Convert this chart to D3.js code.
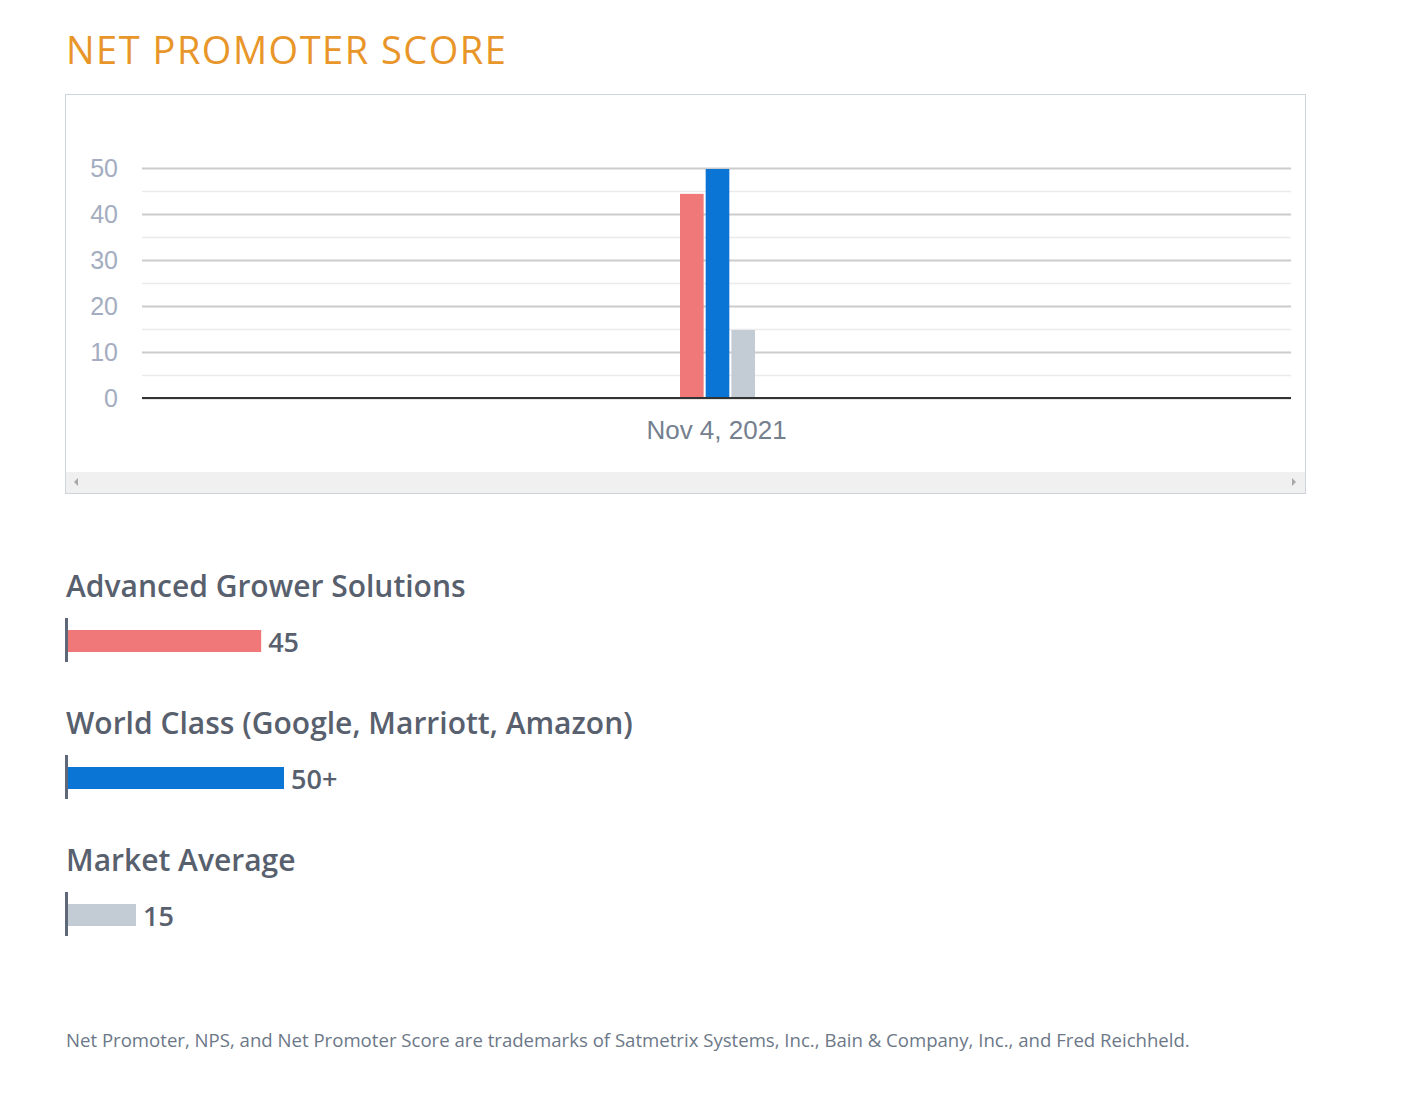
<!DOCTYPE html>
<html>
<head>
<meta charset="utf-8">
<script src="https://cdn.jsdelivr.net/npm/d3@7"></script>
<style>
  body { margin: 0; background: #fff; }
  svg { display: block; }
</style>
</head>
<body>
<div id="chart"></div>
<script>
// data
const dates = ["Nov 4, 2021"];
const seriesNames = ["Advanced Grower Solutions", "World Class (Google, Marriott, Amazon)", "Market Average"];
const seriesValues = [44.6, 50, 15];
const valueLabels = ["45", "50+", "15"];
const seriesColors = ["#f07878", "#0a75d4", "#c3ccd4"];
const yTicks = [0, 10, 20, 30, 40, 50];

const W = 1420, H = 1110;
const svg = d3.select("#chart").append("svg")
  .attr("width", W)
  .attr("height", H);

// title
svg.append("text")
  .attr("x", 66)
  .attr("y", 64)
  .style("font-family", "'Open Sans', sans-serif")
  .style("font-size", "38px")
  .style("letter-spacing", "1.5px")
  .style("fill", "#e8962a")
  .text("NET PROMOTER SCORE");

// =====================
// CHART BOX
// =====================
const box = {x: 65.5, y: 94.5, w: 1240, h: 399};
svg.append("rect")
  .attr("x", box.x).attr("y", box.y)
  .attr("width", box.w).attr("height", box.h)
  .attr("fill", "#fff")
  .attr("stroke", "#cfd3dc");

// scrollbar strip
svg.append("rect")
  .attr("x", 66).attr("y", 472)
  .attr("width", 1239).attr("height", 21)
  .attr("fill", "#f0f0f0");
svg.append("path")
  .attr("d", "M78,478 L74,482 L78,486 Z")
  .attr("fill", "#a8a8a8");
svg.append("path")
  .attr("d", "M1292,478 L1296,482 L1292,486 Z")
  .attr("fill", "#a8a8a8");

const plot = {left: 142, right: 1291, top: 168, bottom: 398};

const y = d3.scaleLinear()
  .domain([0, 50])
  .range([plot.bottom, plot.top]);

const x0 = d3.scaleBand()
  .domain(dates)
  .range([plot.left, plot.right]);

const x1 = d3.scaleBand()
  .domain(seriesNames)
  .range([0, 75])
  .paddingInner(0.08);

// minor gridlines
svg.append("g")
  .selectAll("line")
  .data(d3.range(5, 50, 10))
  .join("line")
  .attr("x1", plot.left).attr("x2", plot.right)
  .attr("y1", d => Math.round(y(d)) + 0.5)
  .attr("y2", d => Math.round(y(d)) + 0.5)
  .attr("stroke", "#ebebeb")
  .attr("stroke-width", 1.5);

// major gridlines + labels
const yAxis = svg.append("g")
  .attr("transform", `translate(${plot.left},0)`)
  .call(d3.axisLeft(y).tickValues(yTicks).tickSize(-(plot.right - plot.left)).tickPadding(24));
yAxis.select(".domain").remove();
yAxis.selectAll(".tick line")
  .attr("stroke", "#cccccc")
  .attr("stroke-width", 2);
yAxis.selectAll(".tick text")
  .style("font-family", "Arial, 'Liberation Sans', sans-serif")
  .style("font-size", "25px")
  .style("fill", "#a3adbf");

// bars
const barG = svg.append("g")
  .attr("transform", `translate(${x0(dates[0]) + x0.bandwidth() / 2 - 36.5},0)`);
barG.selectAll("rect")
  .data(seriesNames.map((n, i) => ({name: n, value: seriesValues[i], color: seriesColors[i]})))
  .join("rect")
  .attr("x", d => x1(d.name))
  .attr("y", d => y(d.value) + 1)
  .attr("width", x1.bandwidth())
  .attr("height", d => y(0) - y(d.value) - 1)
  .attr("fill", d => d.color);

// baseline
svg.append("line")
  .attr("x1", plot.left).attr("x2", plot.right)
  .attr("y1", y(0)).attr("y2", y(0))
  .attr("stroke", "#333")
  .attr("stroke-width", 2);

// x axis label
svg.append("g")
  .attr("transform", `translate(0,${plot.bottom})`)
  .call(d3.axisBottom(x0).tickSize(0).tickPadding(23))
  .call(g => g.select(".domain").remove())
  .selectAll("text")
  .style("font-family", "Arial, 'Liberation Sans', sans-serif")
  .style("font-size", "26px")
  .style("fill", "#75808f");

// =====================
// LEGEND BARS
// =====================
const lx = d3.scaleLinear()
  .domain([0, 50])
  .range([6.6, 218]);

const rowTop = [570, 707, 844];

seriesNames.forEach((name, i) => {
  const g = svg.append("g").attr("transform", `translate(66,${rowTop[i]})`);
  g.append("text")
    .attr("x", 0)
    .attr("y", 27)
    .style("font-family", "'Open Sans', sans-serif")
    .style("font-size", "30px")
    .style("font-weight", 600)
    .style("fill", "#58606e")
    .text(name);
  g.append("rect")
    .attr("x", -1).attr("y", 48)
    .attr("width", 3).attr("height", 44)
    .attr("fill", "#5f6878");
  g.append("rect")
    .attr("x", 2).attr("y", 60)
    .attr("width", lx(seriesValues[i]) - 2)
    .attr("height", 22)
    .attr("fill", seriesColors[i]);
  g.append("text")
    .attr("x", lx(seriesValues[i]) + 7)
    .attr("y", 82)
    .style("font-family", "'Open Sans', sans-serif")
    .style("font-size", "27px")
    .style("font-weight", 600)
    .style("fill", "#58606e")
    .text(valueLabels[i]);
});

// footnote
svg.append("text")
  .attr("x", 66)
  .attr("y", 1047)
  .style("font-family", "'Open Sans', sans-serif")
  .style("font-size", "18.6px")
  .style("fill", "#6c7888")
  .text("Net Promoter, NPS, and Net Promoter Score are trademarks of Satmetrix Systems, Inc., Bain & Company, Inc., and Fred Reichheld.");
</script>
</body>
</html>
